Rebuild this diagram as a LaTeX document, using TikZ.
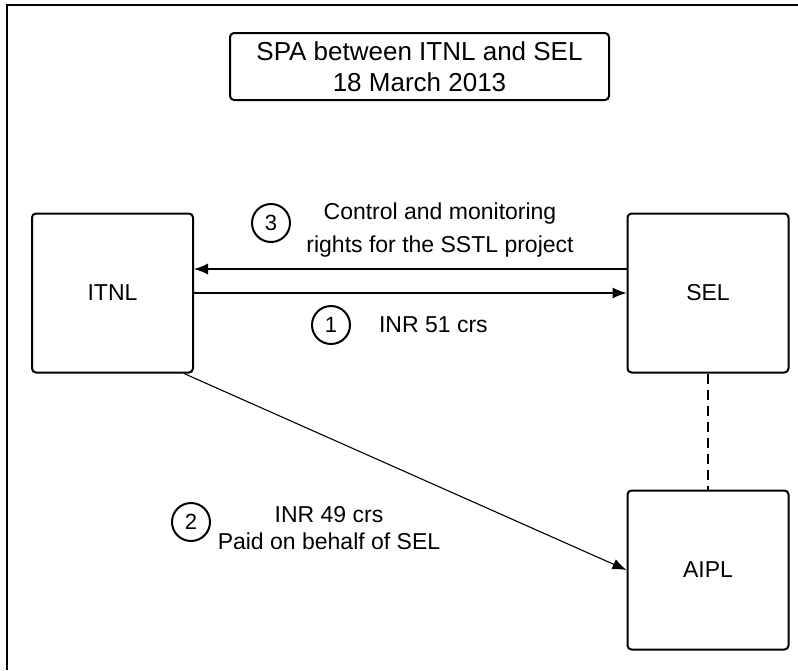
\documentclass[tikz,border=0pt]{standalone}
\usepackage{fontspec}
\setmainfont{Liberation Sans}
\usetikzlibrary{arrows.meta}

\tikzset{
	party/.style={draw,line width=1pt,rounded corners=2pt,minimum width=80.5pt,minimum height=79.5pt,font=\fontsize{11.5}{14}\selectfont},
	stepno/.style={circle,draw,line width=1pt,minimum size=19pt,inner sep=0pt,font=\fontsize{11}{13}\selectfont},
	txt/.style={align=center,font=\fontsize{11.5}{13.5}\selectfont},
	flow/.style={line width=0.55pt,-{Latex[length=7pt,width=5.5pt]}}
}

\begin{document}
\begin{tikzpicture}[x=0.5pt,y=-0.5pt]
	\useasboundingbox (0,0) rectangle (798,670);
	\draw[line width=1pt] (7,670)--(7,5)--(798,5);
	%
	\node[draw,line width=1pt,rounded corners=2pt,minimum width=189.5pt,minimum height=33.5pt,align=center,font=\fontsize{13}{15.5}\selectfont] (title) at (419.5,66.5) {SPA between ITNL and SEL\\18 March 2013};
	%
	\node[party] (ITNL) at (112.5,293) {ITNL};
	\node[party] (SEL) at (708,293) {SEL};
	\node[party] (AIPL) at (708,570) {AIPL};
	%
	\draw[flow] ([yshift=12pt]SEL.west)--([yshift=12pt]ITNL.east);
	\node[stepno] (n3) at (271,223) {3};
	\node[txt] (l3) at (440,230) {Control and monitoring\\[3pt]rights for the SSTL project};
	%
	\draw[flow] (ITNL.east)--(SEL.west);
	\node[stepno] (n1) at (331,325) {1};
	\node[txt,anchor=west] (l1) at (372,325) {INR 51 crs};
	%
	\draw[flow] ([xshift=-5pt]ITNL.south east)--(AIPL.west);
	\node[stepno] (n2) at (191,522) {2};
	\node[txt] (l2) at (329,528) {INR 49 crs\\Paid on behalf of SEL};
	%
	\draw[dashed,line width=0.55pt,dash pattern=on 5pt off 3pt] (SEL.south)--(AIPL.north);
\end{tikzpicture}
\end{document}
